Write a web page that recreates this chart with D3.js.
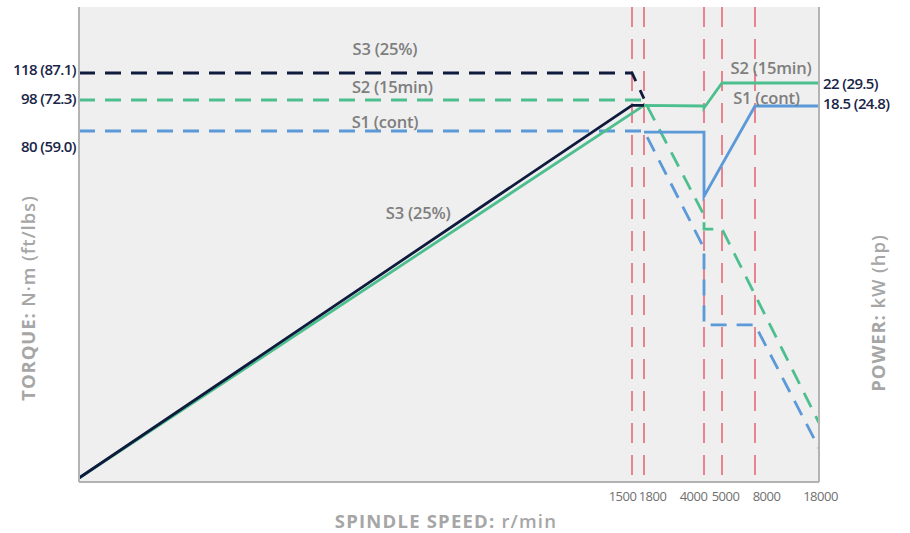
<!DOCTYPE html>
<html>
<head>
<meta charset="utf-8">
<script src="https://cdn.jsdelivr.net/npm/d3@7/dist/d3.min.js"></script>
<style>
  html, body { margin: 0; padding: 0; background: #ffffff; }
  svg { display: block; }
  text { font-family: "Open Sans", "Noto Sans", sans-serif; }
</style>
</head>
<body>
<svg id="chart" width="910" height="533"></svg>
<script>
// ---------- DATA ----------
const rpmBreaks = [0, 1500, 1800, 4000, 5000, 8000, 18000];
const xTickValues = [1500, 1800, 4000, 5000, 8000, 18000];
const markerSpeeds = [1500, 1800, 4000, 5000, 8000];

const torqueTicks = [80, 98, 118];
const torqueTickLabels = ["80 (59.0)", "98 (72.3)", "118 (87.1)"];
const powerTicks = [18.5, 22];
const powerTickLabels = ["18.5 (24.8)", "22 (29.5)"];

// Power curves (kW) – solid lines
const s3PowerRpm = [0, 1500, 1800];
const s3PowerKw  = [0, 18.6, 18.6];
const s2PowerRpm = [0, 1800, 4000, 4000, 5000, 18000];
const s2PowerKw  = [0, 18.6, 18.5, 18.4, 22, 22];
const s1PowerRpm = [1800, 4000, 4000, 8000, 18000];
const s1PowerKw  = [17.2, 17.2, 14.0, 18.5, 18.5];

// Torque curves (N·m) – dashed lines
const s3TorqueRpm = [0, 1500, 1800];
const s3TorqueNm  = [118, 118, 99];
const s2TorqueRpm = [0, 1800, 4000, 4000, 5000, 8000, 18000];
const s2TorqueNm  = [98, 98, 60.6, 57.4, 57.4, 42.2, 12.7];
const s1TorqueRpm = [0, 1800, 4000, 4000, 8000, 18000];
const s1TorqueNm  = [80, 80, 53.0, 35.3, 35.3, 6.9];

const seriesNames = ["S3 (25%)", "S2 (15min)", "S1 (cont)"];
const seriesColors = ["#0f1b3d", "#4dbf8f", "#5b99d8"];

// ---------- LAYOUT ----------
const svg = d3.select("#chart");
const plot = { left: 79, right: 819, top: 7, bottom: 482 };
const base = 478;

const x = d3.scaleLinear()
  .domain(rpmBreaks)
  .range([plot.left, 632, 644, 704, 722, 755, plot.right]);

const yT = d3.scaleLinear().domain([0, 80, 98, 118]).range([base, 131, 100, 73]);
const yP = d3.scaleLinear().domain([0, 18.5, 22]).range([base, 106, 83]);

// background
svg.append("rect")
  .attr("x", plot.left).attr("y", plot.top)
  .attr("width", plot.right - plot.left).attr("height", plot.bottom - plot.top)
  .attr("fill", "#efefef");

// red dashed speed markers
svg.append("g").selectAll("line").data(markerSpeeds).join("line")
  .attr("x1", d => x(d)).attr("x2", d => x(d))
  .attr("y1", plot.top).attr("y2", plot.bottom - 4)
  .attr("stroke", "#e8606f").attr("stroke-width", 1.5)
  .attr("stroke-dasharray", "20,12");

const lineGen = d3.line();
function drawLine(rpm, vals, scale, color, dashed) {
  const pts = rpm.map((r, i) => [x(r), scale(vals[i])]);
  svg.append("path")
    .attr("d", lineGen(pts))
    .attr("fill", "none")
    .attr("stroke", color)
    .attr("stroke-width", 2.8)
    .attr("stroke-linejoin", "miter")
    .attr("stroke-dasharray", dashed ? "16,10" : null);
}

// torque dashed
drawLine(s1TorqueRpm, s1TorqueNm, yT, seriesColors[2], true);
drawLine(s2TorqueRpm, s2TorqueNm, yT, seriesColors[1], true);
drawLine(s3TorqueRpm, s3TorqueNm, yT, seriesColors[0], true);
// power solid
drawLine(s1PowerRpm, s1PowerKw, yP, seriesColors[2], false);
drawLine(s2PowerRpm, s2PowerKw, yP, seriesColors[1], false);
drawLine(s3PowerRpm, s3PowerKw, yP, seriesColors[0], false);

// frame lines
svg.append("line").attr("x1", plot.left).attr("x2", plot.left)
  .attr("y1", plot.top).attr("y2", plot.bottom)
  .attr("stroke", "#b3b3b3").attr("stroke-width", 2);
svg.append("line").attr("x1", plot.right).attr("x2", plot.right)
  .attr("y1", plot.top).attr("y2", plot.bottom)
  .attr("stroke", "#b3b3b3").attr("stroke-width", 2);
svg.append("line").attr("x1", plot.left).attr("x2", plot.right)
  .attr("y1", plot.bottom).attr("y2", plot.bottom)
  .attr("stroke", "#b3b3b3").attr("stroke-width", 2);

// x axis tick labels
const xTickDx = { 1500: -10, 1800: 8, 4000: -11, 5000: 3, 8000: 11, 18000: 1 };
const xAxis = svg.append("g")
  .attr("transform", `translate(0,${plot.bottom})`)
  .call(d3.axisBottom(x).tickValues(xTickValues).tickSize(0).tickPadding(10).tickFormat(d => String(d)));
xAxis.select(".domain").remove();
xAxis.selectAll("text")
  .attr("font-size", 13).attr("fill", "#6f6f6f")
  .attr("font-family", "'Open Sans', sans-serif")
  .attr("letter-spacing", -0.5)
  .attr("dx", d => xTickDx[d]);

// left torque labels
const tDy = { 80: 16, 98: -1, 118: -3 };
const leftAxis = svg.append("g")
  .attr("transform", `translate(${plot.left - 3},0)`)
  .call(d3.axisLeft(yT).tickValues(torqueTicks).tickSize(0).tickPadding(0)
    .tickFormat((d, i) => torqueTickLabels[i]));
leftAxis.select(".domain").remove();
leftAxis.selectAll("text")
  .attr("font-size", 15).attr("font-weight", 600).attr("fill", "#1a2548")
  .attr("font-family", "'Open Sans', sans-serif")
  .attr("letter-spacing", -0.6)
  .attr("transform", d => `translate(0,${tDy[d]})`);

// right power labels
const pDy = { 18.5: -2, 22: 1 };
const rightAxis = svg.append("g")
  .attr("transform", `translate(${plot.right + 4},0)`)
  .call(d3.axisRight(yP).tickValues(powerTicks).tickSize(0).tickPadding(0)
    .tickFormat((d, i) => powerTickLabels[i]));
rightAxis.select(".domain").remove();
rightAxis.selectAll("text")
  .attr("font-size", 15).attr("font-weight", 600).attr("fill", "#1a2548")
  .attr("font-family", "'Open Sans', sans-serif")
  .attr("letter-spacing", -0.6)
  .attr("transform", d => `translate(0,${pDy[d]})`);

// series labels
function seriesLabel(txt, px, py) {
  svg.append("text").attr("x", px).attr("y", py)
    .attr("text-anchor", "middle").attr("dominant-baseline", "central")
    .attr("font-size", 16.5).attr("font-weight", 600).attr("fill", "#7e7e7e")
    .attr("letter-spacing", -0.2)
    .text(txt);
}
seriesLabel(seriesNames[0], x(830), yT(118) - 25);
seriesLabel(seriesNames[1], x(850), yT(98) - 14);
seriesLabel(seriesNames[2], x(830), yT(80) - 10);
seriesLabel(seriesNames[0], x(920), 212);
seriesLabel(seriesNames[1], x(10500), yP(22) - 16);
seriesLabel(seriesNames[2], x(9800), yP(18.5) - 9);

// axis titles
const titleColor = "#a6a6a6";
const xt = svg.append("text").attr("x", 446).attr("y", 520)
  .attr("text-anchor", "middle").attr("dominant-baseline", "central")
  .attr("font-size", 18.5).attr("fill", titleColor).attr("letter-spacing", 1.2);
xt.append("tspan").attr("font-weight", 700).text("SPINDLE SPEED: ");
xt.append("tspan").attr("font-weight", 600).text("r/min");

const lt = svg.append("text")
  .attr("transform", "translate(27,298) rotate(-90)")
  .attr("text-anchor", "middle").attr("dominant-baseline", "central")
  .attr("font-size", 18.5).attr("fill", titleColor).attr("letter-spacing", 0.9);
lt.append("tspan").attr("font-weight", 700).text("TORQUE: ");
lt.append("tspan").attr("font-weight", 600).text("N·m (ft/lbs)");

const rt = svg.append("text")
  .attr("transform", "translate(877,313) rotate(-90)")
  .attr("text-anchor", "middle").attr("dominant-baseline", "central")
  .attr("font-size", 18.5).attr("fill", titleColor).attr("letter-spacing", 0.9);
rt.append("tspan").attr("font-weight", 700).text("POWER: ");
rt.append("tspan").attr("font-weight", 600).text("kW (hp)");
</script>
</body>
</html>
